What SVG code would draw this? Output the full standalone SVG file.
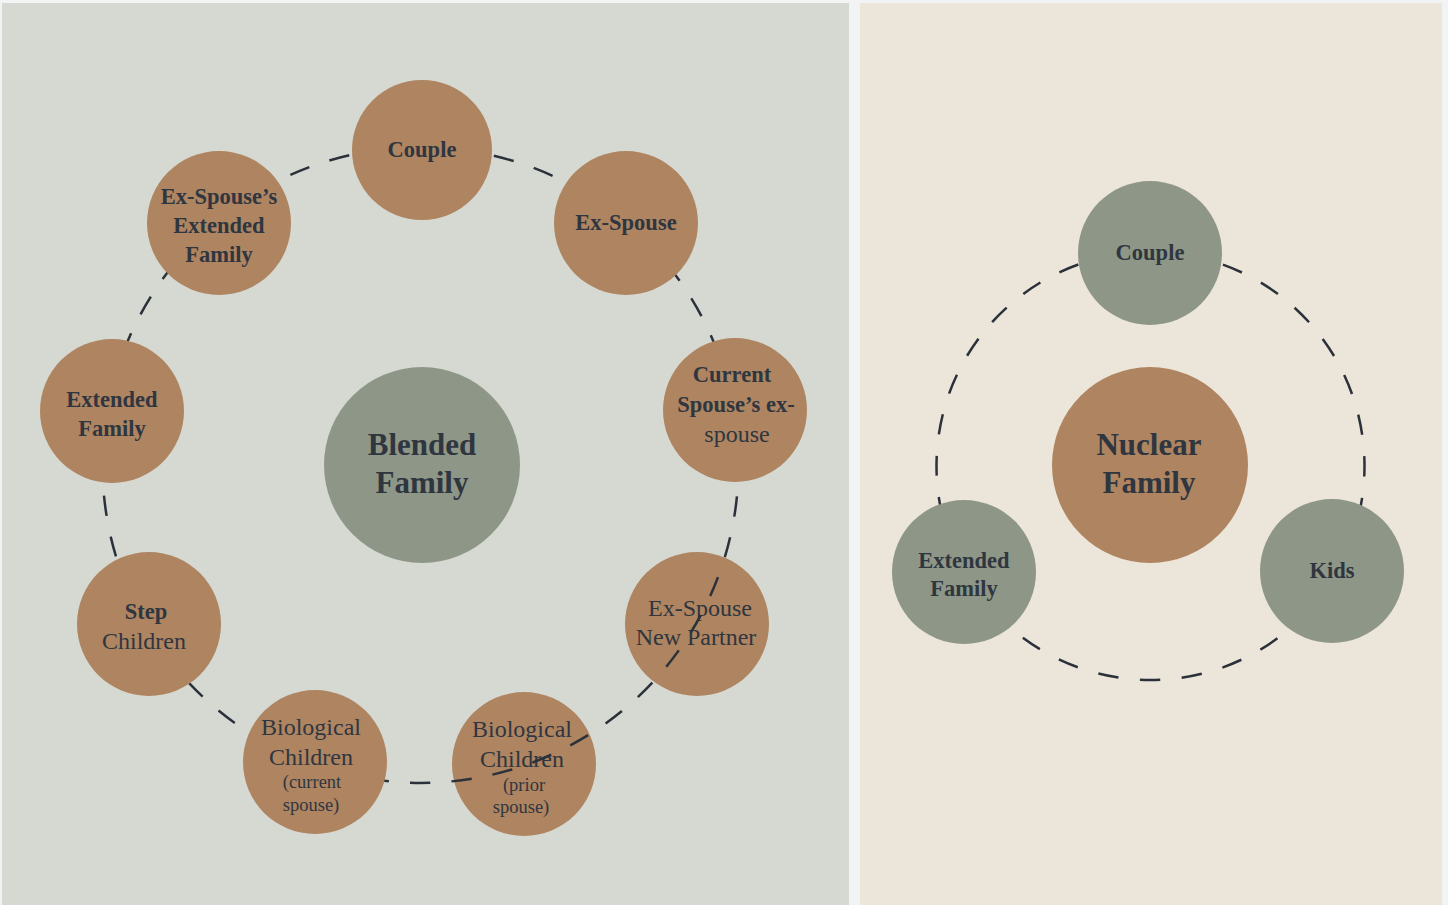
<svg xmlns="http://www.w3.org/2000/svg" width="1448" height="905" viewBox="0 0 1448 905">
<style>
.bg{fill:#f1f3f5}
.pl{fill:#d5d9d1}
.pr{fill:#ece5d9}
.br{fill:#ae8461}
.gr{fill:#8e9787}
.ring{fill:none;stroke:#2b313a;stroke-width:2.5}
text{font-family:"Liberation Serif","DejaVu Serif",serif;fill:#2f3640;text-anchor:middle}
.t{font-size:24px}
.b{font-size:22.5px;font-weight:bold}
.s{font-size:18.5px}
.big{font-size:31px;font-weight:bold}
</style>
<rect class="bg" x="0" y="0" width="1448" height="905"/>
<rect class="pl" x="2" y="3" width="847" height="902"/>
<rect class="pr" x="860" y="3" width="582" height="902"/>

<g id="node-expartner">
<circle class="br" cx="697" cy="624" r="72"/>
<text class="t" x="700" y="616">Ex-Spouse</text>
<text class="t" x="696" y="645">New Partner</text>
</g>
<g id="node-bio-prior">
<circle class="br" cx="524" cy="764" r="72"/>
<text class="t" x="522" y="737">Biological</text>
<text class="t" x="522" y="767">Children</text>
<text class="s" x="524" y="791">(prior</text>
<text class="s" x="521" y="813">spouse)</text>
</g>

<g id="connectors">
<path class="ring" d="M738.5 465 A318 318 0 0 1 102.5 465 A318 318 0 0 1 738.5 465" stroke-dasharray="20.5 21.13" stroke-dashoffset="10.25"/>
<path class="ring" d="M936.5 466 A214 214 0 0 1 1364.5 466 A214 214 0 0 1 936.5 466" stroke-dasharray="20.5 21.52" stroke-dashoffset="10.25"/>
</g>

<g id="node-blended">
<circle class="gr" cx="422" cy="465" r="98"/>
<text class="big" x="422" y="455">Blended</text>
<text class="big" x="422" y="493">Family</text>
</g>
<g id="node-couple-left">
<circle class="br" cx="422" cy="150" r="70"/>
<text class="b" x="422" y="157">Couple</text>
</g>
<g id="node-exspouse-ext">
<circle class="br" cx="219" cy="223" r="72"/>
<text class="b" x="219" y="204">Ex-Spouse’s</text>
<text class="b" x="219" y="233">Extended</text>
<text class="b" x="219" y="262">Family</text>
</g>
<g id="node-exspouse">
<circle class="br" cx="626" cy="223" r="72"/>
<text class="b" x="626" y="230">Ex-Spouse</text>
</g>
<g id="node-current-ex">
<circle class="br" cx="735" cy="410" r="72"/>
<text class="b" x="732" y="382">Current</text>
<text class="b" x="736" y="412">Spouse’s ex-</text>
<text class="t" x="737" y="442">spouse</text>
</g>
<g id="node-extended-left">
<circle class="br" cx="112" cy="411" r="72"/>
<text class="b" x="112" y="407">Extended</text>
<text class="b" x="112" y="436">Family</text>
</g>
<g id="node-step">
<circle class="br" cx="149" cy="624" r="72"/>
<text class="b" x="146" y="619">Step</text>
<text class="t" x="144" y="649">Children</text>
</g>
<g id="node-bio-current">
<circle class="br" cx="315" cy="762" r="72"/>
<text class="t" x="311" y="735">Biological</text>
<text class="t" x="311" y="765">Children</text>
<text class="s" x="312" y="788">(current</text>
<text class="s" x="311" y="811">spouse)</text>
</g>

<g id="node-nuclear">
<circle class="br" cx="1150" cy="465" r="98"/>
<text class="big" x="1149" y="455">Nuclear</text>
<text class="big" x="1149" y="493">Family</text>
</g>
<g id="node-couple-right">
<circle class="gr" cx="1150" cy="253" r="72"/>
<text class="b" x="1150" y="260">Couple</text>
</g>
<g id="node-extended-right">
<circle class="gr" cx="964" cy="572" r="72"/>
<text class="b" x="964" y="568">Extended</text>
<text class="b" x="964" y="596">Family</text>
</g>
<g id="node-kids">
<circle class="gr" cx="1332" cy="571" r="72"/>
<text class="b" x="1332" y="578">Kids</text>
</g>
</svg>
